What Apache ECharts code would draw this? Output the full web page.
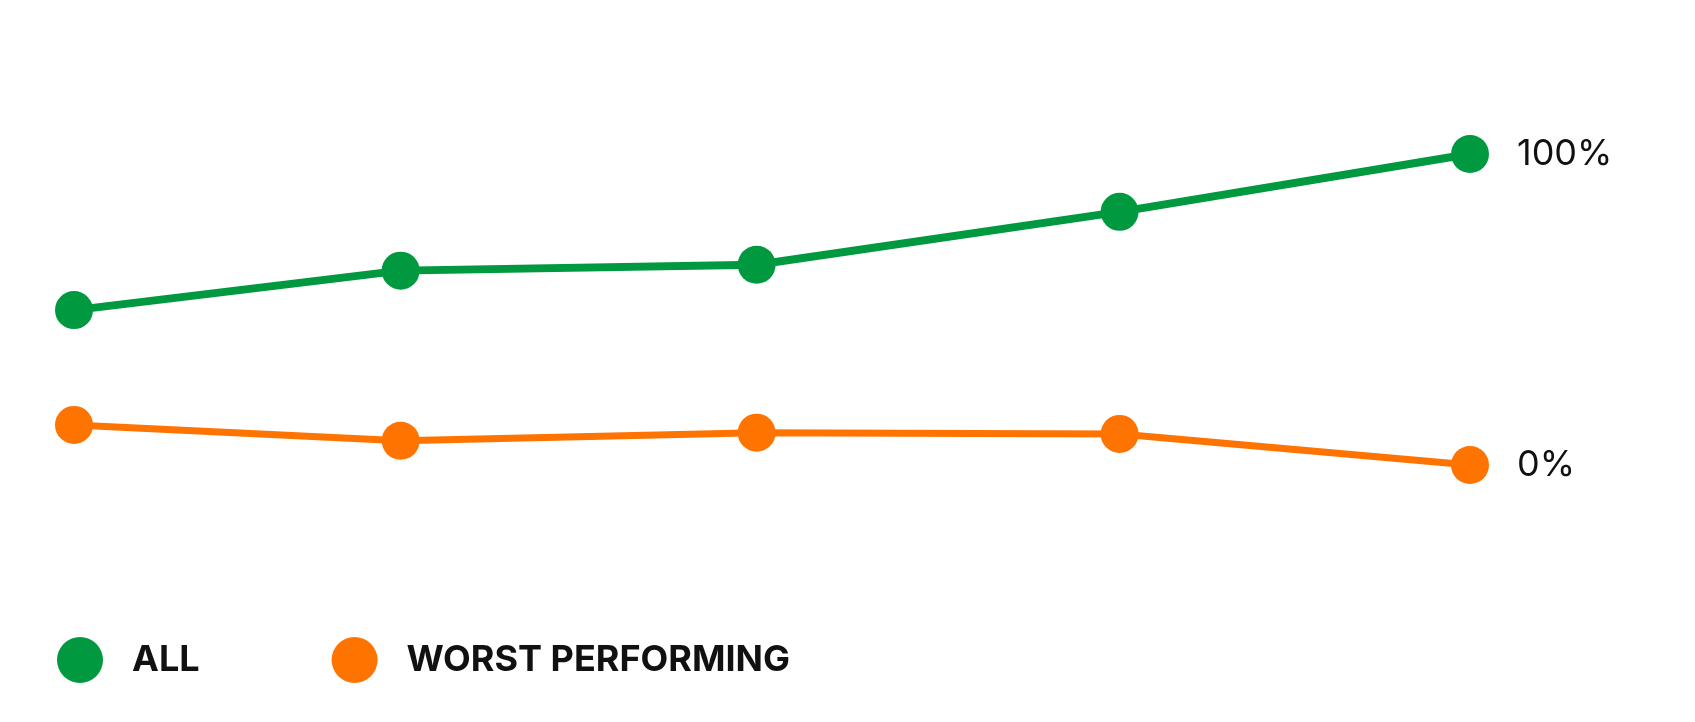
<!DOCTYPE html>
<html>
<head>
<meta charset="utf-8">
<title>All vs worst performing</title>
<script src="https://cdn.jsdelivr.net/npm/echarts@6/dist/echarts.min.js"></script>
<style>
  html, body { margin: 0; padding: 0; background: #fff; }
  #chart { width: 1695px; height: 722px; }
</style>
</head>
<body>
<div id="chart"></div>
<script>
// positions along the x axis (0 = first point, 100 = last point)
var xSteps = [0, 23.4, 48.9, 74.9, 100];
var allValues = [49.8, 62.5, 64.4, 81.4, 100];
var worstValues = [12.9, 7.8, 10.4, 10.0, 0];
var endLabels = ['100%', '0%'];

var GREEN = '#00993f';
var ORANGE = '#ff7300';

function pairs(xs, ys) {
    return xs.map(function (x, i) { return [x, ys[i]]; });
}

function endLabel(text) {
    return {
        show: true,
        position: 'right',
        distance: 28,
        formatter: function (p) {
            return p.dataIndex === xSteps.length - 1 ? text : '';
        },
        fontFamily: 'Inter',
        fontSize: 36,
        color: '#111'
    };
}

var myChart = echarts.init(document.getElementById('chart'));
var option = {
    backgroundColor: '#fff',
    animation: false,
    grid: { left: 74, right: 225, top: 154, bottom: 257 },
    xAxis: {
        type: 'value', min: 0, max: 100,
        show: false
    },
    yAxis: {
        type: 'value', min: 0, max: 100,
        show: false
    },
    legend: {
        left: 52,
        top: 632,
        icon: 'circle',
        itemWidth: 46,
        itemHeight: 46,
        itemGap: 132,
        data: ['ALL', 'WORST PERFORMING'],
        textStyle: {
            fontFamily: 'Inter',
            fontWeight: 'bold',
            fontSize: 36,
            color: '#111',
            padding: [0, 0, 0, 24]
        }
    },
    series: [
        {
            name: 'ALL',
            type: 'line',
            clip: false,
            data: pairs(xSteps, allValues),
            symbol: 'circle',
            symbolSize: 38,
            lineStyle: { color: GREEN, width: 8 },
            itemStyle: { color: GREEN },
            label: endLabel(endLabels[0])
        },
        {
            name: 'WORST PERFORMING',
            type: 'line',
            clip: false,
            data: pairs(xSteps, worstValues),
            symbol: 'circle',
            symbolSize: 38,
            lineStyle: { color: ORANGE, width: 7 },
            itemStyle: { color: ORANGE },
            label: endLabel(endLabels[1])
        }
    ]
};
myChart.setOption(option);
</script>
</body>
</html>
